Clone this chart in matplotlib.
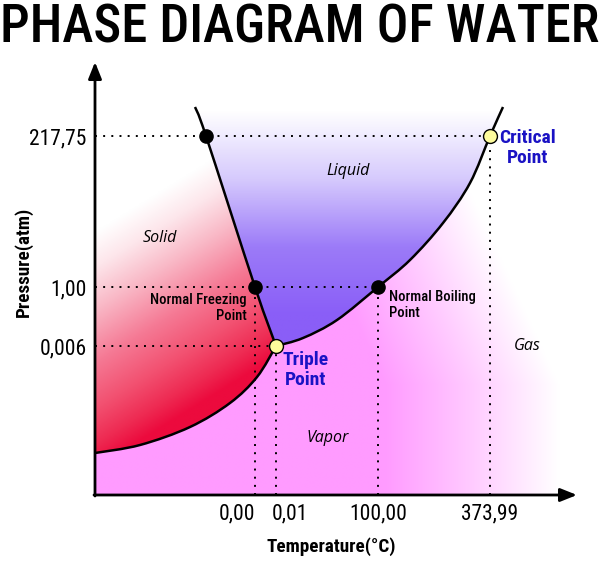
"""Phase diagram of water (schematic, not to scale)."""

import matplotlib

matplotlib.use("Agg")
import matplotlib.pyplot as plt
import numpy as np
from matplotlib import font_manager
from matplotlib.colors import LinearSegmentedColormap
from matplotlib.patches import PathPatch, Polygon
from matplotlib.path import Path
from matplotlib.transforms import ScaledTranslation

# schematic positions in axis units (the diagram is not to scale)
fusion_x = [100, 111, 160, 181]
fusion_y = [388, 359, 208, 149]
boil_x = [181, 208, 242, 283, 315, 348, 375, 395, 408]
boil_y = [149, 157, 175, 208, 235, 272, 312, 359, 388]
sublim_x = [181, 162, 135, 95, 45, 0]
sublim_y = [149, 118, 92, 68, 50, 42]

temp_ticks = [160, 181, 283, 395]
temp_labels = ["0,00", "0,01", "100,00", "373,99"]
press_ticks = [359, 208, 149]
press_labels = ["217,75", "1,00", "0,006"]

# end of each dotted guide (x for horizontal, y for vertical ones)
h_guide_x = [395, 283, 181]
v_guide_y = [208, 149, 208, 359]

black_x = [111, 160, 283]
black_y = [359, 208, 208]
yellow_x = [181, 395]
yellow_y = [149, 359]

XMAX, YMAX = 482, 433
CONDENSED = ("condensed", "semi-condensed", "extra-condensed", "ultra-condensed")


def pick_condensed():
    found = []
    for f in font_manager.fontManager.ttflist:
        if f.stretch in CONDENSED or "Narrow" in f.name or "Condensed" in f.name:
            found.append(f)
    for pref in ("Noto Sans", "Roboto", "Open Sans", "DejaVu Sans", "Liberation"):
        for f in found:
            if f.name.startswith(pref) and "CJK" not in f.name:
                return {"family": f.name, "stretch": f.stretch}, True
    return {"family": "Roboto"}, False


def smooth_path(xs, ys):
    pts = np.column_stack([xs, ys]).astype(float)
    verts, codes = [pts[0]], [Path.MOVETO]
    for i in range(len(pts) - 1):
        p0 = pts[i - 1] if i > 0 else pts[i]
        p1, p2 = pts[i], pts[i + 1]
        p3 = pts[i + 2] if i + 2 < len(pts) else pts[i + 1]
        verts += [p1 + (p2 - p0) / 6, p2 - (p3 - p1) / 6, p2]
        codes += [Path.CURVE4] * 3
    return Path(verts, codes)


def flat(path):
    return path.to_polygons(closed_only=False)[0]


def gradient_fill(ax, poly, field, cmap):
    im = ax.imshow(cmap(field), extent=(0, XMAX, 0, YMAX), origin="lower",
                   aspect="auto", zorder=1, interpolation="bilinear")
    patch = Polygon(poly, closed=True, facecolor="none", edgecolor="none")
    ax.add_patch(patch)
    im.set_clip_path(patch)


cond, is_cond = pick_condensed()
k = 1.0 if is_cond else 0.84

fig = plt.figure(figsize=(6.0, 5.74), dpi=100)
ax = fig.add_axes([95 / 600, 79 / 574, 482 / 600, 433 / 574])
ax.set_xlim(0, XMAX)
ax.set_ylim(0, YMAX)
for s in ax.spines.values():
    s.set_visible(False)

fus = smooth_path(fusion_x, fusion_y)
boil = smooth_path(boil_x, boil_y)
sub = smooth_path(sublim_x, sublim_y)
fus_v, boil_v, sub_v = flat(fus), flat(boil), flat(sub)

gx, gy = np.meshgrid(np.linspace(0, XMAX, 400), np.linspace(0, YMAX, 360))

# solid: diagonal gradient, white at the top left to crimson at the bottom right
solid_poly = np.vstack([sub_v[::-1], fus_v[::-1],
                        [[fusion_x[0], YMAX], [0, YMAX]]])
t_solid = np.clip(0.08 + 0.0026 * gx + 0.0042 * (245 - gy), 0, 1)
solid_cmap = LinearSegmentedColormap.from_list(
    "solid", [(0, "#ffffff"), (0.15, "#fde6eb"), (0.33, "#f9b8c6"),
              (0.55, "#f57a95"), (0.75, "#f25070"), (0.9, "#ee2a52"),
              (1, "#ec0a3d")])
gradient_fill(ax, solid_poly, t_solid, solid_cmap)

# liquid: purple at the bottom fading to white at the top
liquid_poly = np.vstack([fus_v, boil_v])
t_liquid = np.clip((385 - gy) / 205, 0, 1)
liquid_cmap = LinearSegmentedColormap.from_list(
    "liquid", ["#ffffff", "#d6cafd", "#9c7bf8", "#8a5ef7"])
gradient_fill(ax, liquid_poly, t_liquid, liquid_cmap)

# vapour / gas: pink on the left fading to white on the right
vapor_poly = np.vstack([[[0, 0], [0, sublim_y[-1]]], sub_v[::-1], boil_v,
                        [[boil_x[-1], YMAX], [XMAX, YMAX], [XMAX, 0]]])
t_vapor = np.clip((gx - 290) / 175 + np.clip(gy - 110, 0, None) / 380, 0, 1)
vapor_cmap = LinearSegmentedColormap.from_list(
    "vapor", ["#ff9bff", "#ffcbff", "#ffffff"])
gradient_fill(ax, vapor_poly, t_vapor, vapor_cmap)

# dotted guides
dot = (0, (1, 3.2))
for y, xe in zip(press_ticks, h_guide_x):
    ax.plot([0, xe], [y, y], color="black", lw=1.4, ls=dot, zorder=3)
for x, ye in zip(temp_ticks, v_guide_y):
    ax.plot([x, x], [0, ye], color="black", lw=1.4, ls=dot, zorder=3)

# phase boundaries
for p in (fus, boil, sub):
    ax.add_patch(PathPatch(p, facecolor="none", edgecolor="black", lw=1.8,
                           zorder=4))

ax.plot(black_x, black_y, "o", color="black", ms=9.5, zorder=5)
ax.plot(yellow_x, yellow_y, "o", mfc="#fdfb9c", mec="black", mew=1.0,
        ms=10, zorder=5)

# axes drawn as arrows
arrow = dict(arrowstyle="-|>,head_length=1.0,head_width=0.4", color="black",
             lw=2.0, shrinkA=0, shrinkB=0)
ax.annotate("", xy=(XMAX, 0), xytext=(-1, 0), arrowprops=arrow,
            annotation_clip=False, zorder=6)
ax.annotate("", xy=(0, YMAX), xytext=(0, -1), arrowprops=arrow,
            annotation_clip=False, zorder=6)

ax.set_xticks(temp_ticks, temp_labels)
ax.set_yticks(press_ticks, press_labels)
ax.tick_params(length=0)
ax.tick_params(axis="y", pad=6)
ax.tick_params(axis="x", pad=6)
for lab in ax.get_xticklabels() + ax.get_yticklabels():
    lab.set(fontsize=15.5 * k, **cond)
xl = ax.get_xticklabels()
xl[0].set_ha("right")
xl[1].set_ha("left")
xl[1].set_transform(xl[1].get_transform()
                    + ScaledTranslation(-0.04, 0, fig.dpi_scale_trans))

ax.set_xlabel("Temperature(°C)", fontsize=13.8 * k, fontweight="bold", **cond)
ax.set_ylabel("Pressure(atm)", fontsize=13.8 * k, fontweight="bold", **cond)
ax.xaxis.set_label_coords((331 - 95) / 482, (495 - 537) / 433)
ax.yaxis.set_label_coords((33 - 95) / 482, (495 - 262) / 433)

# region names
region = dict(fontsize=11.5, style="italic", family="Open Sans",
              ha="center", va="center", zorder=6)
ax.text(65, 257, "Solid", **region)
ax.text(253, 324, "Liquid", **region)
ax.text(233, 57, "Vapor", **region)
ax.text(432, 149, "Gas", **region)

blue = dict(fontsize=14 * k, fontweight="bold", color="#1a12c4", va="center",
            ha="center", linespacing=1.1, zorder=6, **cond)
ax.text(433, 347, "Critical\nPoint", **blue)
ax.text(211, 125, "Triple\nPoint", **blue)

note = dict(fontsize=10.5 * k, fontweight="medium", va="center",
            linespacing=1.2, zorder=6, **cond)
ax.text(152, 187, "Normal Freezing\nPoint", ha="right",
        multialignment="right", **note)
ax.text(294, 190, "Normal Boiling\nPoint", ha="left", **note)

# title fitted to the full width
title = fig.text(0.5, 1 - 28 / 574, "PHASE DIAGRAM OF WATER", ha="center",
                 va="center", fontsize=40, fontweight="medium", **cond)
w = title.get_window_extent(fig.canvas.get_renderer()).width
title.set_fontsize(40 * 598 / w)

fig.savefig("out.png", dpi=100)
